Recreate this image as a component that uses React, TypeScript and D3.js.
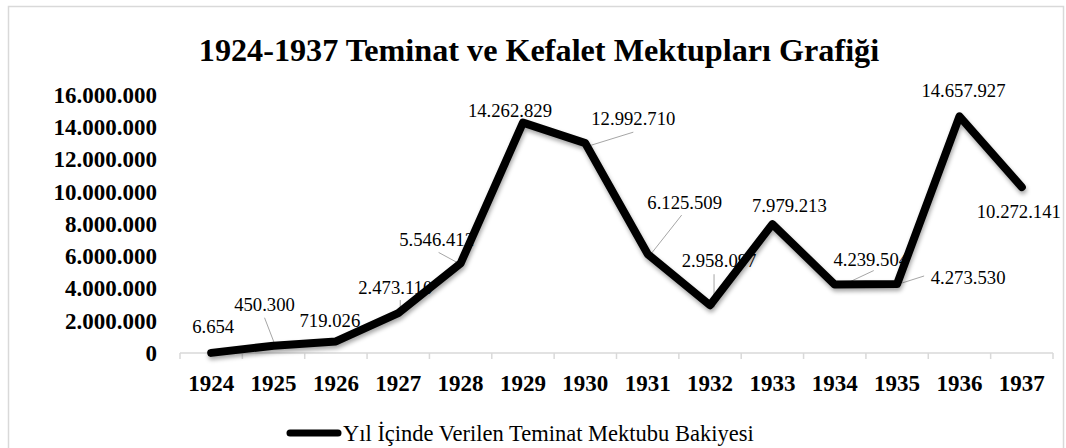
import React from "react";
import * as d3 from "d3";

const years = ["1924","1925","1926","1927","1928","1929","1930","1931","1932","1933","1934","1935","1936","1937"];
const values = [6654, 450300, 719026, 2473110, 5546412, 14262829, 12992710, 6125509, 2958097, 7979213, 4239504, 4273530, 14657927, 10272141];
const yTicks = [0, 2000000, 4000000, 6000000, 8000000, 10000000, 12000000, 14000000, 16000000];
const seriesName = "Yıl İçinde Verilen Teminat Mektubu Bakiyesi";
const title = "1924-1937 Teminat ve Kefalet Mektupları Grafiği";

// label placement (text center offset from point), leader: [x1,y1,x2,y2] offsets from point or null
const labelOffsets: [number, number][] = [
  [2, -26], [-9, -41], [-6, -21], [-3, -26], [-24, -24], [-13, -12], [48, -25],
  [37, -52], [9, -45], [17, -19], [36, -25], [71, -7], [4, -26], [-3, 24],
];
const leaders: ([number, number, number, number] | null)[] = [
  null, [1, -2, -9, -28], null, [2, -1, 2, -13], [2, 2, -22, -11], null, [6, 2, 48, -11],
  [4, -1, 34, -39], [4, 2, 4, -31], null, [5, 2, 39, -14], [5, -1, 27, -8], null, null,
];

const fmt = (v: number) => v.toLocaleString("de-DE");
const SERIF = "Liberation Serif";

export default function App() {
  const W = 1066, H = 448;
  const x = d3.scaleBand<string>().domain(years).range([180, 1053]);
  const y = d3.scaleLinear().domain([0, 16000000]).range([353, 94.6]);
  const px = (i: number) => (x(years[i]) as number) + x.bandwidth() / 2;
  const line = d3.line<number>().x((_, i) => px(i)).y((d) => y(d));
  const bounds = [...years.map((yr) => x(yr) as number), 1053];
  return (
    <svg width={W} height={H} style={{ position: "absolute", left: 0, top: 0, background: "#fff" }}>
      <defs>
        <filter id="sh" x="-10%" y="-10%" width="120%" height="130%">
          <feDropShadow dx="1" dy="3" stdDeviation="2" floodColor="#000" floodOpacity="0.35" />
        </filter>
      </defs>
      <rect x={8.5} y={6.5} width={1055} height={460} fill="#fff" stroke="#d9d9d9" strokeWidth={1.5} />
      <text x={539} y={61} textAnchor="middle" fontFamily={SERIF} fontSize={32.2} fontWeight="bold">{title}</text>
      {yTicks.map((t) => (
        <text key={t} x={157} y={y(t)} dy="0.35em" textAnchor="end" fontFamily={SERIF} fontSize={23} fontWeight="bold">{fmt(t)}</text>
      ))}
      <line x1={180} x2={1053} y1={353} y2={353} stroke="#d9d9d9" strokeWidth={1.5} />
      {bounds.map((b, i) => (
        <line key={i} x1={b} x2={b} y1={353} y2={359} stroke="#d9d9d9" strokeWidth={1.5} />
      ))}
      {years.map((yr, i) => (
        <text key={yr} x={px(i)} y={391} textAnchor="middle" fontFamily={SERIF} fontSize={23} fontWeight="bold">{yr}</text>
      ))}
      {leaders.map((l, i) =>
        l ? (
          <line key={i} x1={px(i) + l[0]} y1={y(values[i]) + l[1]} x2={px(i) + l[2]} y2={y(values[i]) + l[3]} stroke="#a6a6a6" strokeWidth={1} />
        ) : null
      )}
      <path d={line(values) as string} fill="none" stroke="#000" strokeWidth={8} strokeLinejoin="round" strokeLinecap="round" filter="url(#sh)" />
      {values.map((v, i) => (
        <text key={i} x={px(i) + labelOffsets[i][0]} y={y(v) + labelOffsets[i][1]} dy="0.35em" textAnchor="middle" fontFamily={SERIF} fontSize={18.7}>{fmt(v)}</text>
      ))}
      <line x1={290} x2={338} y1={433} y2={433} stroke="#000" strokeWidth={7} strokeLinecap="round" />
      <text x={343} y={441} fontFamily={SERIF} fontSize={22.5}>{seriesName}</text>
    </svg>
  );
}
